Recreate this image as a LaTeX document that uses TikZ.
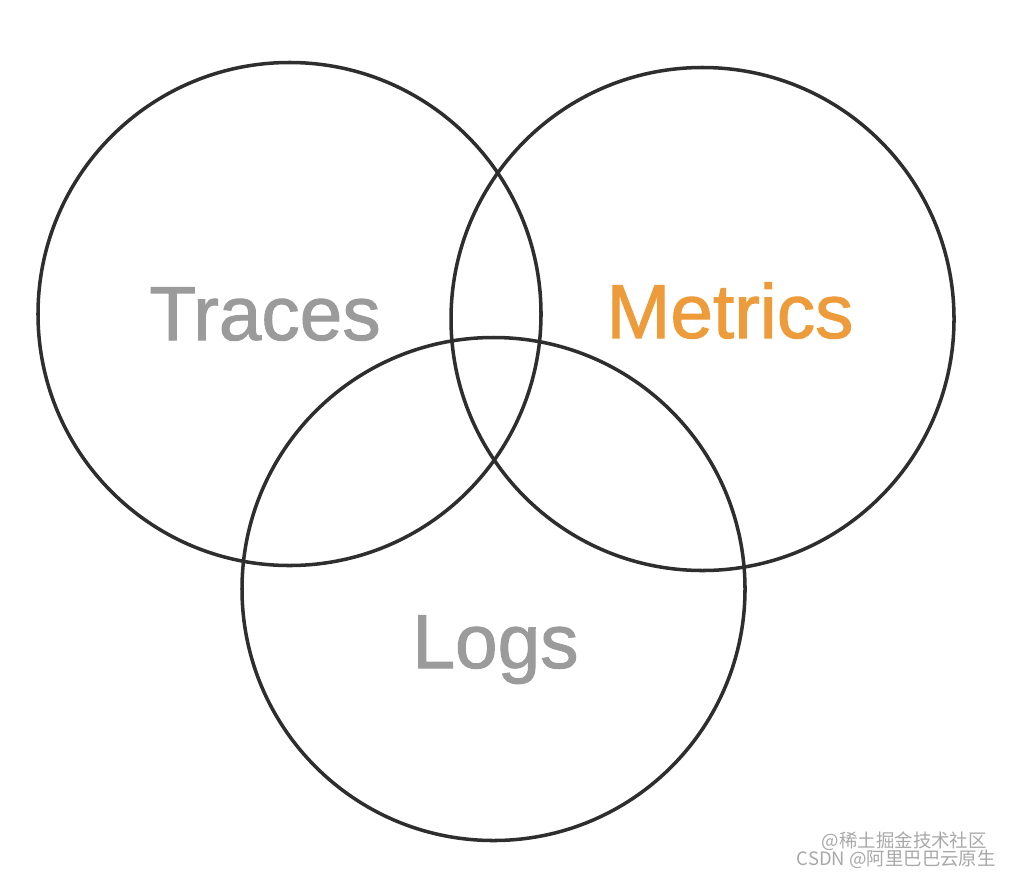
\documentclass[tikz,border=0pt]{standalone}
\usepackage{fontspec}
\setmainfont{Liberation Sans}
\newfontfamily\medfont[FakeBold=1.3]{Liberation Sans}
\newfontfamily\cjk{Noto Sans CJK SC}
\usepackage{tikz}
\usepackage{xcolor}
\definecolor{ringcol}{HTML}{2E2E2E}
\definecolor{labgray}{HTML}{9B9B9B}
\definecolor{metorange}{HTML}{EE9B3B}
\definecolor{markgray}{HTML}{A8A8A8}

\begin{document}
\begin{tikzpicture}[
  ring/.style={draw=ringcol, line width=2pt, circle, minimum size=10.06cm, inner sep=0pt},
  word/.style={anchor=base, font=\medfont\fontsize{43.6}{48}\selectfont},
  wmark/.style={anchor=base east, text=markgray, font=\cjk\fontsize{10.5}{12}\selectfont}
]
\useasboundingbox (0,0) rectangle (20.36,-17.52);
\node[ring] (T) at (5.79,-6.28) {};
\node[ring] (M) at (14.05,-6.38) {};
\node[ring] (L) at (9.87,-11.78) {};
\node[word, text=labgray] (traces) at (5.30,-6.80) {Traces};
\node[word, text=metorange] (metrics) at (14.60,-6.76) {Metrics};
\node[word, text=labgray] (logs) at (9.91,-13.36) {Logs};
\node[wmark] (wm1) at (19.86,-16.94) {@稀土掘金技术社区};
\node[wmark] (wm2) at (20.04,-17.30) {CSDN @阿里巴巴云原生};
\end{tikzpicture}
\end{document}
